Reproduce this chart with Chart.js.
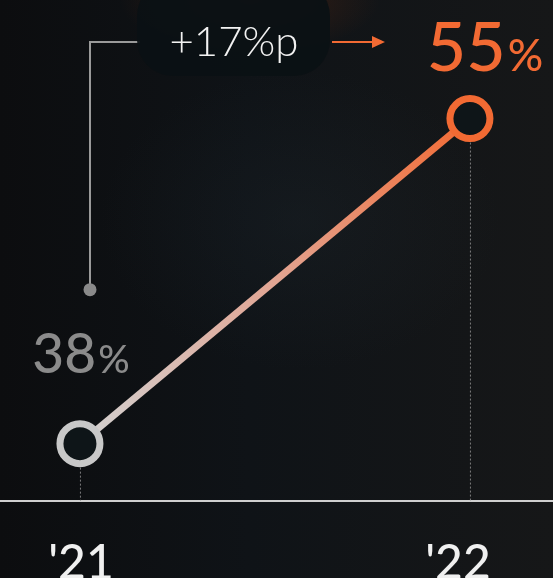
<!DOCTYPE html>
<html>
<head>
<meta charset="utf-8">
<script src="https://cdn.jsdelivr.net/npm/chart.js@4"></script>
<style>
  html, body { margin: 0; padding: 0; }
  body {
    width: 553px; height: 578px; overflow: hidden;
    background:
      radial-gradient(ellipse 130px 55px at 250px 0px, rgba(110, 45, 15, 0.45), rgba(0,0,0,0) 100%),
      radial-gradient(ellipse 200px 150px at 300px 220px, rgba(35, 45, 52, 0.25), rgba(0,0,0,0) 100%),
      linear-gradient(90deg, #0c0d0f 0%, #0f1317 45%, #161718 100%);
  }
  #wrap { position: relative; width: 553px; height: 578px; }
</style>
</head>
<body>
<div id="wrap"><canvas id="chart"></canvas></div>
<script>
const years = ["'21", "'22"];
const values = [38, 55];
const yMin = 35;
const yMax = 61.2;

const gray = "#c8c8c8";
const orange = "#f26a33";

const pctText = (ctx, num, x, y, bigSize, smallSize, color) => {
  ctx.save();
  ctx.fillStyle = color;
  ctx.textBaseline = "alphabetic";
  ctx.font = `500 ${bigSize}px Lato`;
  const w1 = ctx.measureText(num).width;
  ctx.font = `500 ${smallSize}px Lato`;
  const w2 = ctx.measureText("%").width;
  let left = x - (w1 + w2 + 2) / 2;
  ctx.textAlign = "left";
  ctx.font = `500 ${bigSize}px Lato`;
  ctx.fillText(num, left, y);
  ctx.font = `500 ${smallSize}px Lato`;
  ctx.fillText("%", left + w1 + 2, y);
  ctx.restore();
};

const decorations = {
  id: "decorations",
  beforeDatasetsDraw(chart) {
    const { ctx, scales } = chart;
    const axisY = chart.chartArea.bottom;
    // dotted drop lines
    ctx.save();
    ctx.strokeStyle = "rgba(150,150,150,0.8)";
    ctx.lineWidth = 1;
    ctx.setLineDash([2, 2]);
    values.forEach((v, i) => {
      const px = scales.x.getPixelForValue(i);
      const py = scales.y.getPixelForValue(v);
      ctx.beginPath();
      ctx.moveTo(px + 0.5, py);
      ctx.lineTo(px + 0.5, axisY);
      ctx.stroke();
    });
    ctx.restore();
  },
  afterDraw(chart) {
    const { ctx, scales } = chart;
    const x0 = scales.x.getPixelForValue(0);
    const x1 = scales.x.getPixelForValue(1);
    const y0 = scales.y.getPixelForValue(values[0]);
    const y1 = scales.y.getPixelForValue(values[1]);

    // value labels
    pctText(ctx, String(values[0]), x0 + 1, y0 - 71, 55, 39, "#8b8b8b");
    pctText(ctx, String(values[1]), x1 + 15, y1 - 48, 68, 44, orange);

    // bracket from the old value to the pill
    ctx.save();
    ctx.strokeStyle = "#9a9a9a";
    ctx.lineWidth = 2;
    ctx.beginPath();
    ctx.moveTo(140, 42);
    ctx.lineTo(90, 42);
    ctx.lineTo(90, y0 - 154);
    ctx.stroke();
    ctx.fillStyle = "#8a8a8a";
    ctx.beginPath();
    ctx.arc(90, y0 - 154, 6.5, 0, Math.PI * 2);
    ctx.fill();
    ctx.restore();

    // pill with the difference
    ctx.save();
    ctx.fillStyle = "rgba(11,17,20,0.95)";
    ctx.beginPath();
    ctx.roundRect(137, -20, 193, 96, 36);
    ctx.fill();
    ctx.fillStyle = "#f2f2f2";
    ctx.font = "300 42px Lato";
    ctx.textAlign = "center";
    ctx.textBaseline = "alphabetic";
    ctx.fillText("+" + (values[1] - values[0]) + "%p", 234, 56);
    ctx.restore();

    // arrow
    ctx.save();
    ctx.strokeStyle = orange;
    ctx.fillStyle = orange;
    ctx.lineWidth = 2;
    ctx.beginPath();
    ctx.moveTo(332, 42);
    ctx.lineTo(378, 42);
    ctx.stroke();
    ctx.beginPath();
    ctx.moveTo(385, 42);
    ctx.lineTo(372, 36);
    ctx.lineTo(372, 48);
    ctx.closePath();
    ctx.fill();
    ctx.restore();

    // year labels
    const offsets = [1, -12];
    ctx.save();
    ctx.fillStyle = "#f0f0f0";
    ctx.font = "500 48px Lato";
    ctx.textAlign = "center";
    ctx.textBaseline = "alphabetic";
    years.forEach((y, i) => {
      ctx.fillText(y, scales.x.getPixelForValue(i) + offsets[i], 579);
    });
    ctx.restore();
  }
};

new Chart(document.getElementById("chart"), {
  type: "line",
  data: {
    datasets: [
      {
        data: values.map((v, i) => ({ x: i, y: v })),
        borderWidth: 7,
        borderColor: (c) => {
          const chart = c.chart;
          if (!chart.chartArea) return gray;
          const sx = chart.scales.x, sy = chart.scales.y;
          const g = chart.ctx.createLinearGradient(
            sx.getPixelForValue(0), sy.getPixelForValue(values[0]),
            sx.getPixelForValue(1), sy.getPixelForValue(values[1])
          );
          g.addColorStop(0, "#d2d2d2");
          g.addColorStop(0.5, "#e2a593");
          g.addColorStop(1, orange);
          return g;
        },
        pointRadius: 20,
        pointHoverRadius: 20,
        pointBorderWidth: 7,
        pointBackgroundColor: "#0e1518",
        pointBorderColor: [gray, orange],
        tension: 0,
        clip: false,
      },
    ],
  },
  options: {
    responsive: true,
    maintainAspectRatio: false,
    animation: false,
    layout: { padding: 0, autoPadding: false },
    plugins: { legend: { display: false }, tooltip: { enabled: false } },
    scales: {
      x: {
        type: "linear",
        min: -0.205,
        max: 1.213,
        grid: { display: false },
        border: { display: true, color: "#cfcfcf", width: 2 },
        ticks: { display: false },
        afterFit: (scale) => { scale.height = 77; },
      },
      y: {
        display: false,
        min: yMin,
        max: yMax,
      },
    },
  },
  plugins: [decorations],
});
</script>
</body>
</html>
